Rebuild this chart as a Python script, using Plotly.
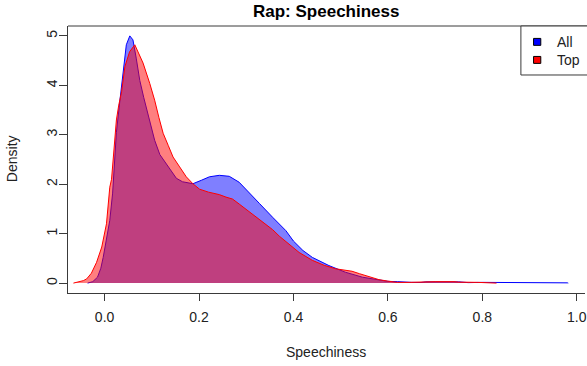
import plotly.graph_objects as go

# Kernel density estimates of speechiness for rap tracks
all_x = [-0.036, -0.025, -0.015, -0.008, -0.003, 0.004, 0.011, 0.017, 0.025, 0.0325,
         0.039, 0.046, 0.0534, 0.060, 0.067, 0.0745, 0.083, 0.092, 0.106, 0.117,
         0.128, 0.138, 0.152, 0.165, 0.187, 0.205, 0.222, 0.243, 0.264, 0.285,
         0.307, 0.328, 0.356, 0.384, 0.40, 0.42, 0.44, 0.475, 0.51, 0.546,
         0.581, 0.60, 0.62, 0.64, 0.65, 0.67, 0.68, 0.75, 0.77, 0.80,
         0.82, 0.835, 0.85, 0.88, 0.90, 0.98, 0.982]
all_y = [0.0, 0.03, 0.12, 0.30, 0.52, 0.86, 1.27, 1.82, 3.05, 3.70,
         4.24, 4.82, 5.00, 4.92, 4.55, 4.10, 3.75, 3.43, 2.89, 2.60,
         2.45, 2.30, 2.12, 2.05, 2.01, 2.08, 2.15, 2.18, 2.16, 2.04,
         1.81, 1.61, 1.33, 1.06, 0.85, 0.66, 0.52, 0.355, 0.22, 0.12,
         0.065, 0.035, 0.03, 0.03, 0.015, 0.012, 0.025, 0.025, 0.01, 0.015,
         0.015, 0.01, 0.02, 0.02, 0.008, 0.005, 0.0]

top_x = [-0.066, -0.055, -0.045, -0.038, -0.028, -0.017, -0.006, 0.004, 0.011, 0.0147,
         0.02, 0.025, 0.03, 0.036, 0.043, 0.053, 0.064, 0.072, 0.0815, 0.0956,
         0.106, 0.115, 0.124, 0.135, 0.145, 0.159, 0.173, 0.187, 0.201, 0.22,
         0.243, 0.257, 0.271, 0.285, 0.307, 0.335, 0.356, 0.37, 0.391, 0.412,
         0.44, 0.465, 0.489, 0.51, 0.524, 0.54, 0.553, 0.57, 0.581, 0.60,
         0.62, 0.645, 0.66, 0.70, 0.74, 0.75, 0.79, 0.80, 0.82, 0.83]
top_y = [0.0, 0.02, 0.05, 0.085, 0.20, 0.42, 0.73, 1.20, 1.94, 2.10,
         2.70, 3.30, 3.60, 3.87, 4.38, 4.68, 4.82, 4.65, 4.45, 4.04,
         3.70, 3.35, 3.03, 2.78, 2.55, 2.35, 2.15, 2.01, 1.90, 1.84,
         1.79, 1.74, 1.70, 1.60, 1.44, 1.23, 1.08, 0.95, 0.78, 0.62,
         0.46, 0.36, 0.29, 0.26, 0.24, 0.19, 0.15, 0.10, 0.07, 0.04,
         0.015, 0.015, 0.02, 0.03, 0.03, 0.02, 0.015, 0.01, 0.01, 0.0]

series_names = ["All", "Top"]
x_ticks = [0.0, 0.2, 0.4, 0.6, 0.8, 1.0]
x_tick_text = ["0.0", "0.2", "0.4", "0.6", "0.8", "1.0"]
y_ticks = [0, 1, 2, 3, 4, 5]
y_tick_text = ["0", "1", "2", "3", "4", "5"]

FONT = "Liberation Sans, Arial, sans-serif"
INK = "#222222"
FRAME = "#3a3a3a"

fig = go.Figure()
fig.add_trace(go.Scatter(x=all_x, y=all_y, mode="lines", name=series_names[0],
                         line=dict(color="#0000ff", width=1),
                         fill="tozeroy", fillcolor="rgba(0,0,255,0.5)"))
fig.add_trace(go.Scatter(x=top_x, y=top_y, mode="lines", name=series_names[1],
                         line=dict(color="#ff0000", width=1),
                         fill="tozeroy", fillcolor="rgba(255,0,0,0.5)"))

# Plot frame: top edge (left and bottom come from the axis lines)
shapes = [
    dict(type="line", xref="paper", yref="paper", x0=0, x1=1.02, y0=1, y1=1,
         line=dict(color=FRAME, width=1)),
    # legend box
    dict(type="rect", xref="paper", yref="paper", x0=0.876, x1=1.02, y0=0.8165, y1=1,
         line=dict(color=FRAME, width=1), fillcolor="white"),
    dict(type="rect", xref="paper", yref="paper", x0=0.9005, x1=0.9145, y0=0.9275, y1=0.9535,
         line=dict(color="black", width=1), fillcolor="#0000ff"),
    dict(type="rect", xref="paper", yref="paper", x0=0.9005, x1=0.9145, y0=0.860, y1=0.886,
         line=dict(color="black", width=1), fillcolor="#ff0000"),
]

annotations = [
    dict(text="<b>Rap: Speechiness</b>", xref="paper", yref="paper", x=0.499, y=1.056,
         xanchor="center", yanchor="middle", showarrow=False,
         font=dict(family=FONT, size=17, color="black")),
    dict(text="Speechiness", xref="paper", yref="paper", x=0.499, y=-0.221,
         xanchor="center", yanchor="middle", showarrow=False,
         font=dict(family=FONT, size=14, color=INK)),
    dict(text="Density", xref="paper", yref="paper", x=-0.108, y=0.502, textangle=-90,
         xanchor="center", yanchor="middle", showarrow=False,
         font=dict(family=FONT, size=14, color=INK)),
    dict(text=series_names[0], xref="paper", yref="paper", x=0.9415, y=0.940,
         xanchor="left", yanchor="middle", showarrow=False,
         font=dict(family=FONT, size=14, color=INK)),
    dict(text=series_names[1], xref="paper", yref="paper", x=0.9415, y=0.873,
         xanchor="left", yanchor="middle", showarrow=False,
         font=dict(family=FONT, size=14, color=INK)),
]

fig.update_layout(
    width=587, height=366,
    margin=dict(l=68, r=0, t=26, b=73),
    paper_bgcolor="white", plot_bgcolor="white",
    showlegend=False,
    font=dict(family=FONT, size=14, color=INK),
    shapes=shapes, annotations=annotations,
)
fig.update_xaxes(range=[-0.0775, 1.0174], tickvals=x_ticks, ticktext=x_tick_text,
                 showgrid=False, zeroline=False, showline=True, linecolor=FRAME, linewidth=1,
                 ticks="outside", ticklen=7, tickcolor=FRAME, tickwidth=1,
                 ticklabeloverflow="allow", ticklabelstandoff=4,
                 tickfont=dict(family=FONT, size=14, color=INK))
fig.update_yaxes(range=[-0.2, 5.2], tickvals=y_ticks, ticktext=y_tick_text, tickangle=-90,
                 showgrid=False, zeroline=False, showline=True, linecolor=FRAME, linewidth=1,
                 ticks="outside", ticklen=8, tickcolor=FRAME, tickwidth=1,
                 ticklabelstandoff=-4,
                 tickfont=dict(family=FONT, size=14, color=INK))

fig.write_html("out.html")
